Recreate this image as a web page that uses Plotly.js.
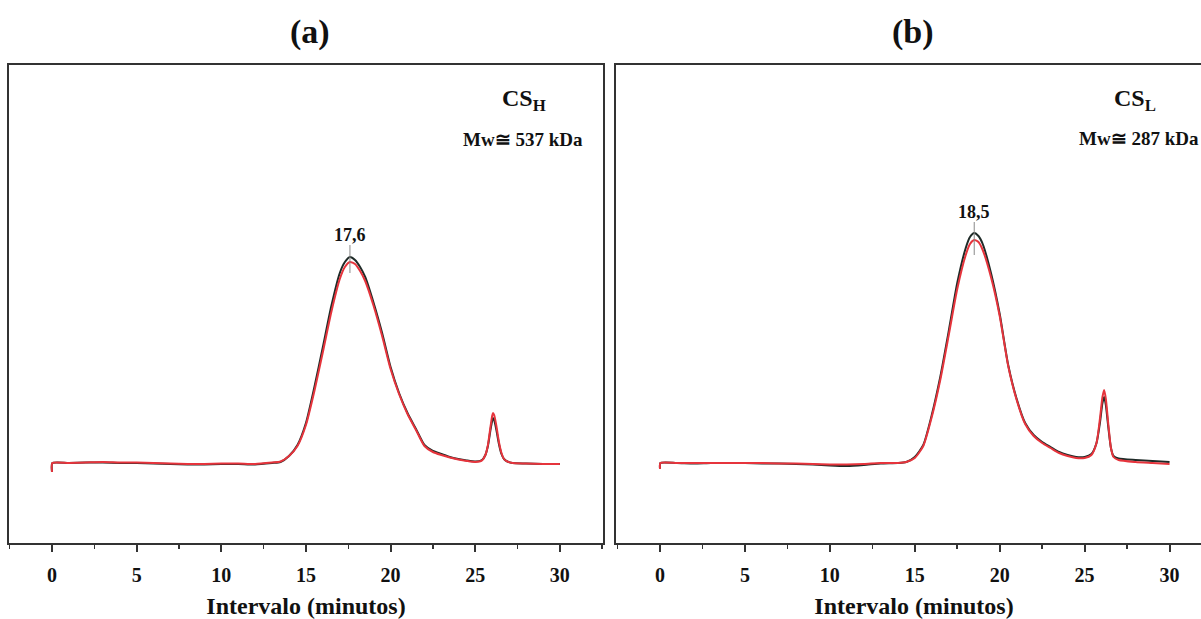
<!DOCTYPE html>
<html><head><meta charset="utf-8">
<script src="https://cdn.plot.ly/plotly-3.0.1.min.js"></script>
<style>html,body{margin:0;padding:0;background:#fff;overflow:hidden;width:1201px;height:619px}#g{width:1212px;height:619px}</style>
</head><body><div id="g"></div>
<script>
// Panel (a) CS_H
const xH = [0,0.02,1,2,3,4,5,6,7,8,9,10,11,12,13,13.5,14,14.5,15,15.5,16,16.5,17,17.3,17.6,17.9,18.2,18.5,19,19.5,20,20.5,21,21.5,22,22.5,23,23.5,24,24.5,25,25.4,25.6,25.75,25.9,26,26.05,26.12,26.25,26.4,26.55,26.7,26.9,27.2,28,29,30];
const yH1 = [-9,0,0,0.5,0.5,0,0,-0.5,-1,-1.5,-1.5,-1,-1,-1.5,0,1,7,18,40,76,116,157,190,201,206,203,196,186,160,130,96,70,50,34,18,12,9,6,4,2.5,1.5,3,8,17,33,42,45,43,33,19,9,4,1.5,0,-0.5,-1,-1];
const yH2 = [-9,0,0,0.5,1,0.5,0.5,0,-0.5,-1,-1,-0.5,-0.5,-1,0.5,1.5,7,17,38,72,111,151,184,196,201,199,192,182,157,127,94,69,49,33,17,11,8,5.5,3.5,2,1,2.5,8,18,36,47,50,48,37,21,10,4,1.5,0,-0.5,-1,-1];
// Panel (b) CS_L
const xL = [0,0.02,1,2,3,4,5,6,7,8,9,10,11,12,13,14,14.5,15,15.5,16,16.5,17,17.5,18,18.25,18.5,18.75,19,19.5,20,20.5,21,21.5,22,22.5,23,23.5,24,24.5,25,25.4,25.7,25.9,26.05,26.15,26.25,26.4,26.55,26.7,27,28,29,30];
const yL1 = [-6,0,0,-0.5,0,0,0,-0.5,-0.5,-1,-1.5,-2.5,-3,-2,-0.5,0,1,6,18,48,86,132,180,215,226,230,227,219,189,149,98,64,40,28,21,16,11,8,6,6,9,20,40,60,66,58,35,15,7,4.5,3,2,1];
const yL2 = [-6,0,0,0,0,0,0,0,-0.5,-0.5,-1,-1.5,-1.5,-1,0,0,1,5,17,46,83,128,174,208,219,223,221,213,185,147,97,63,39,27,20,15,10,7,5,5,8,20,44,66,73,64,38,15,6,3,1,0,-1];

const peakH = 17.6, peakL = 18.5;
const lblH = '17,6', lblL = '18,5';
const xTicks = [0,5,10,15,20,25,30];

const black = '#1f2b28', red = '#e6343c';
const serif = 'Liberation Serif, Times New Roman, serif';

function tr(x,y,c,xa,ya){return {x:x,y:y,type:'scatter',mode:'lines',line:{color:c,width:2,shape:'spline',smoothing:0.6},xaxis:xa,yaxis:ya,hoverinfo:'skip',showlegend:false};}
const data = [
  tr(xH,yH1,black,'x','y'), tr(xH,yH2,red,'x','y'),
  tr(xL,yL1,black,'x2','y2'), tr(xL,yL2,red,'x2','y2')
];
const maxH = Math.max(...yH1), maxL = Math.max(...yL1);

const xbase = {tickmode:'array',tickvals:xTicks,ticktext:xTicks.map(String),ticks:'outside',ticklen:7,tickwidth:2,tickcolor:'#333',
  showline:true,linecolor:'#333',linewidth:2,mirror:true,showgrid:false,zeroline:false,ticklabelstandoff:6,
  tickfont:{family:serif,size:20,color:'#111',weight:'bold'},
  minor:{dtick:2.5,tick0:0,ticks:'outside',ticklen:4,tickwidth:1.5,tickcolor:'#333',showgrid:false},
  title:{text:'Intervalo (minutos)',font:{family:serif,size:24,color:'#111',weight:'bold'},standoff:12}};
const ybase = {range:[-80,398],showline:true,linecolor:'#333',linewidth:2,showticklabels:false,ticks:'',showgrid:false,zeroline:false,mirror:true};

const layout = {
  width:1212,height:619,margin:{l:9,r:0,t:65,b:76},paper_bgcolor:'#fff',plot_bgcolor:'#fff',
  xaxis:Object.assign({},xbase,{domain:[0,0.4938],range:[-2.54,32.55]}),
  yaxis:Object.assign({},ybase),
  xaxis2:Object.assign({},xbase,{domain:[0.5046,1],range:[-2.59,32.5],anchor:'y2'}),
  yaxis2:Object.assign({},ybase,{anchor:'x2'}),
  shapes:[
    {type:'line',xref:'x',yref:'y',x0:peakH,x1:peakH,y0:maxH-16,y1:maxH+12,line:{color:'#888',width:1}},
    {type:'line',xref:'x2',yref:'y2',x0:peakL,x1:peakL,y0:maxL-22,y1:maxL+11,line:{color:'#888',width:1}}
  ],
  annotations:[
    {text:'(a)',xref:'paper',yref:'paper',x:0.2502,y:1.069,xanchor:'center',yanchor:'middle',showarrow:false,font:{family:serif,size:34,color:'#111',weight:'bold'}},
    {text:'(b)',xref:'paper',yref:'paper',x:0.7515,y:1.069,xanchor:'center',yanchor:'middle',showarrow:false,font:{family:serif,size:34,color:'#111',weight:'bold'}},
    {text:lblH,xref:'x',yref:'y',x:peakH,y:maxH+12,yanchor:'bottom',yshift:-2,showarrow:false,font:{family:serif,size:18,color:'#111',weight:'bold'}},
    {text:lblL,xref:'x2',yref:'y2',x:peakL,y:maxL+11,yanchor:'bottom',yshift:-2,showarrow:false,font:{family:serif,size:18,color:'#111',weight:'bold'}},
    {text:'CS<sub>H</sub>',xref:'x',yref:'paper',x:27.9,y:0.927,xanchor:'center',yanchor:'middle',showarrow:false,font:{family:serif,size:24,color:'#111',weight:'bold'}},
    {text:'Mw≅ 537 kDa',xref:'x',yref:'paper',x:27.8,y:0.845,xanchor:'center',yanchor:'middle',showarrow:false,font:{family:serif,size:19,color:'#111',weight:'bold'}},
    {text:'CS<sub>L</sub>',xref:'x2',yref:'paper',x:27.95,y:0.927,xanchor:'center',yanchor:'middle',showarrow:false,font:{family:serif,size:24,color:'#111',weight:'bold'}},
    {text:'Mw≅ 287 kDa',xref:'x2',yref:'paper',x:28.2,y:0.847,xanchor:'center',yanchor:'middle',showarrow:false,font:{family:serif,size:19,color:'#111',weight:'bold'}}
  ]
};
Plotly.newPlot('g',data,layout,{displayModeBar:false,staticPlot:true});
</script></body></html>
